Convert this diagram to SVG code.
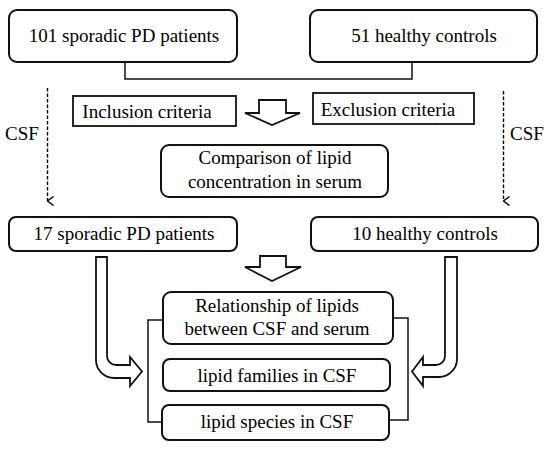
<svg xmlns="http://www.w3.org/2000/svg" width="550" height="451" viewBox="0 0 550 451">
<defs>
<style>
.box{fill:#fff;stroke:#111;stroke-width:2}
.sq{fill:#fff;stroke:#111;stroke-width:1.8}
text{font-size:19px;fill:#000;text-anchor:middle}
.ln{fill:none;stroke:#111;stroke-width:1.5}
.dash{fill:none;stroke:#000;stroke-width:1.4;stroke-dasharray:3.5 2}
.hollow{fill:#fff;stroke:#111;stroke-width:1.8;stroke-linejoin:miter}
</style>
<marker id="vhead" viewBox="0 0 10 10" refX="5" refY="9" markerWidth="10" markerHeight="10" markerUnits="userSpaceOnUse" orient="auto-start-reverse">
<path d="M0.5,3 L5,9 L9.5,3" fill="none" stroke="#000" stroke-width="1.4"/>
</marker>
</defs>
<rect width="550" height="451" fill="#fff"/>
<g font-family="Liberation Serif" font-size="19">
<g id="connectors">
<path class="ln" d="M125,62 V79 H412 V62"/>
<path class="ln" d="M163,320 H148 V422 H162"/>
<path class="ln" d="M393,318 H408 V420 H389"/>
<path class="dash" d="M47.5,88 V201" marker-end="url(#vhead)"/>
<path class="dash" d="M503.5,91 V201" marker-end="url(#vhead)"/>
<text x="22" y="140">CSF</text>
<text x="527" y="140">CSF</text>
<path class="hollow" d="M259,100 H286 V113 H300 L272,125 L245,113 H259 Z"/>
<path class="hollow" d="M260,256 H286 V267 H301 L272,281 L245,267 H260 Z"/>
<path class="hollow" d="M96,257 H107 V356 A9,9 0 0 0 116,365 H130 V357 L142,371.5 L130,386 V378 H114 A18,18 0 0 1 96,360 Z"/>
<path class="hollow" d="M457,257 H445 V356 A9,9 0 0 1 436,365 H423 V357 L412,371.5 L423,386 V377 H439 A18,18 0 0 0 457,359 Z"/>
</g>
<g id="n1"><rect class="box" x="9" y="10" width="228" height="52" rx="8"/><text x="124" y="42">101 sporadic PD patients</text></g>
<g id="n2"><rect class="box" x="310" y="10" width="227" height="52" rx="8"/><text x="424" y="42">51 healthy controls</text></g>
<g id="n3"><rect class="sq" x="73" y="96" width="163" height="30"/><text x="147" y="118">Inclusion criteria</text></g>
<g id="n4"><rect class="sq" x="313" y="93" width="161" height="31"/><text x="388" y="116">Exclusion criteria</text></g>
<g id="n5"><rect class="box" x="161" y="145" width="227" height="52" rx="8"/><text x="275" y="164">Comparison of lipid</text><text x="275" y="188">concentration in serum</text></g>
<g id="n6"><rect class="box" x="9" y="217" width="228" height="34" rx="7"/><text x="124" y="240">17 sporadic PD patients</text></g>
<g id="n7"><rect class="box" x="311" y="217" width="227" height="34" rx="7"/><text x="425" y="240">10 healthy controls</text></g>
<g id="n8"><rect class="box" x="163" y="292" width="230" height="52" rx="8"/><text x="277" y="312">Relationship of lipids</text><text x="277" y="335">between CSF and serum</text></g>
<g id="n9"><rect class="box" x="163" y="359" width="227" height="32" rx="7"/><text x="277" y="382">lipid families in CSF</text></g>
<g id="n10"><rect class="box" x="162" y="405" width="227" height="35" rx="7"/><text x="277" y="428">lipid species in CSF</text></g>
</g>
</svg>
